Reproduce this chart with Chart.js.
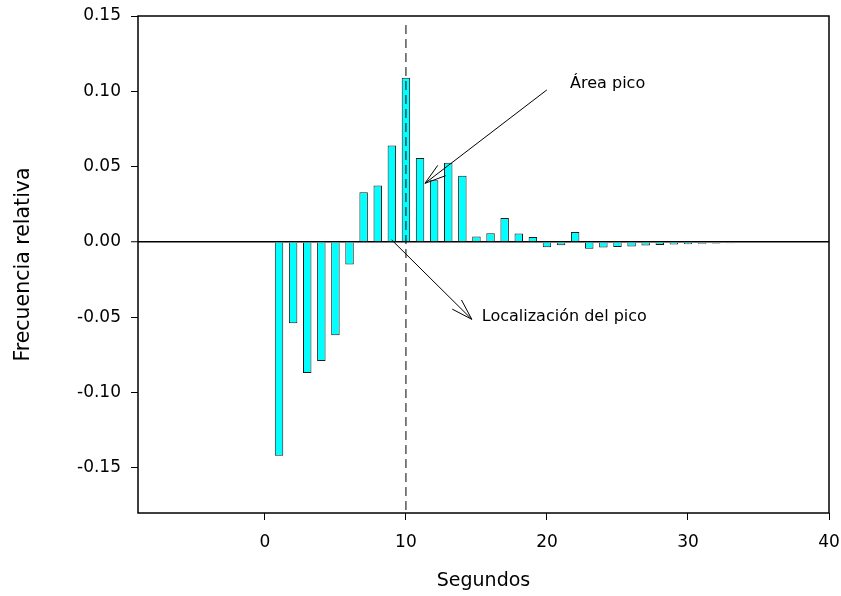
<!DOCTYPE html>
<html>
<head>
<meta charset="utf-8">
<script src="https://cdn.jsdelivr.net/npm/chart.js@4.4.0/dist/chart.umd.min.js"></script>
<style>
  body { margin: 0; background: #fff; }
  #wrap { width: 841px; height: 596px; }
</style>
</head>
<body>
<div id="wrap"><canvas id="peakChart"></canvas></div>
<script>
// datos
const seconds = [1, 2, 3, 4, 5, 6, 7, 8, 9, 10, 11, 12, 13, 14, 15, 16, 17,
                 18, 19, 20, 21, 22, 23, 24, 25, 26, 27, 28, 29, 30, 31, 32, 33];
const relFreq = [-0.142, -0.054, -0.087, -0.079, -0.062, -0.015, 0.033, 0.0375, 0.064, 0.109,
                 0.0557, 0.041, 0.0525, 0.044, 0.0036, 0.0058, 0.0158, 0.0056, 0.0033, -0.0035,
                 -0.0022, 0.0065, -0.0046, -0.0037, -0.0033, -0.003, -0.0024, -0.002, -0.0018,
                 -0.0015, -0.0012, -0.001, -0.0009];
const xTicks = [0, 10, 20, 30, 40];
const yTicks = [-0.15, -0.10, -0.05, 0, 0.05, 0.10, 0.15];
const peakX = 10;

// anotaciones (en unidades de los ejes)
const noteTexts = ['Área pico', 'Localización del pico'];
const noteAt = [[21.64, 0.1022], [15.38, -0.0525]];
const arrowFrom = [[19.99, 0.1009], [8.99, 0.0013]];
const arrowTo = [[11.35, 0.0389], [14.67, -0.0514]];

Chart.defaults.color = '#000';
Chart.defaults.font.family = '"DejaVu Sans", Verdana, sans-serif';

const framePlugin = {
    id: 'frame',
    afterDatasetsDraw(chart) {
        const {ctx, chartArea: a, scales: {x, y}} = chart;
        ctx.save();
        ctx.strokeStyle = '#000';
        ctx.lineWidth = 1.5;
        ctx.strokeRect(a.left, a.top, a.right - a.left, a.bottom - a.top);

        // flechas
        ctx.lineWidth = 1;
        for (let i = 0; i < arrowFrom.length; i++) {
            const x0 = x.getPixelForValue(arrowFrom[i][0]), y0 = y.getPixelForValue(arrowFrom[i][1]);
            const x1 = x.getPixelForValue(arrowTo[i][0]), y1 = y.getPixelForValue(arrowTo[i][1]);
            const ang = Math.atan2(y0 - y1, x0 - x1);
            ctx.beginPath();
            ctx.moveTo(x0, y0);
            ctx.lineTo(x1, y1);
            [-0.3, 0.3].forEach(d => {
                ctx.moveTo(x1, y1);
                ctx.lineTo(x1 + 22 * Math.cos(ang + d), y1 + 22 * Math.sin(ang + d));
            });
            ctx.stroke();
        }

        ctx.fillStyle = '#000';
        ctx.font = '16px "DejaVu Sans", Verdana, sans-serif';
        ctx.textBaseline = 'alphabetic';
        ctx.textAlign = 'left';
        noteTexts.forEach((t, i) => {
            ctx.fillText(t, x.getPixelForValue(noteAt[i][0]), y.getPixelForValue(noteAt[i][1]));
        });
        ctx.restore();
    }
};

const ctx = document.getElementById('peakChart').getContext('2d');
const peakChart = new Chart(ctx, {
    type: 'bar',
    data: {
        datasets: [{
            type: 'line',
            data: [{x: peakX, y: 0.144}, {x: peakX, y: -0.18}],
            borderColor: '#000',
            borderWidth: 1,
            borderDash: [9, 5],
            pointRadius: 0,
            order: 0
        }, {
            data: seconds.map((s, i) => ({x: s, y: relFreq[i]})),
            backgroundColor: '#00ffff',
            borderColor: '#1a1a1a',
            borderWidth: 1,
            barPercentage: 0.6,
            categoryPercentage: 1.0,
            order: 1
        }]
    },
    options: {
        responsive: true,
        maintainAspectRatio: false,
        animation: false,
        layout: { padding: { left: 0, right: 12, top: 16, bottom: 0 } },
        plugins: { legend: { display: false }, tooltip: { enabled: false } },
        scales: {
            x: {
                type: 'linear',
                min: -9,
                max: 40,
                offset: false,
                afterBuildTicks: s => { s.ticks = xTicks.map(v => ({value: v})); },
                afterFit: s => { s.height = 83; s.paddingLeft = 0; s.paddingRight = 0; },
                border: { display: false },
                grid: { display: true, drawOnChartArea: false, offset: false, tickLength: 7, tickColor: '#000', tickWidth: 1 },
                ticks: { font: { size: 17 }, padding: 12, maxRotation: 0, callback: v => String(v) },
                title: { display: true, text: 'Segundos', font: { size: 19 }, padding: { top: 0, bottom: 4 } }
            },
            y: {
                min: -0.18,
                max: 0.15,
                afterBuildTicks: s => { s.ticks = yTicks.map(v => ({value: v})); },
                afterFit: s => { s.width = 138; s.paddingTop = 0; s.paddingBottom = 0; },
                border: { display: false },
                grid: {
                    drawOnChartArea: true,
                    color: c => (c.tick && Math.abs(c.tick.value) < 1e-9) ? '#000' : 'rgba(0,0,0,0)',
                    lineWidth: c => (c.tick && Math.abs(c.tick.value) < 1e-9) ? 1.5 : 1,
                    tickLength: 7,
                    tickColor: '#000',
                    tickWidth: 1
                },
                ticks: { font: { size: 17 }, padding: 10, callback: v => v.toFixed(2) },
                title: { display: true, text: 'Frecuencia relativa', font: { size: 20.5 }, padding: { top: 11, bottom: 0 } }
            }
        }
    },
    plugins: [framePlugin]
});
</script>
</body>
</html>
